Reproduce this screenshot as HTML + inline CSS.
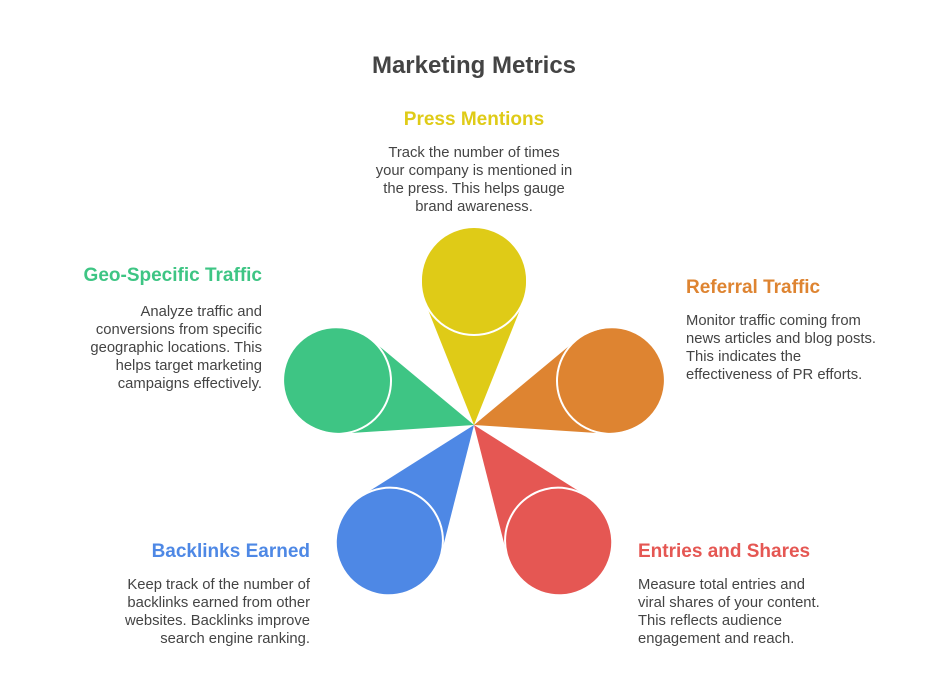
<!DOCTYPE html>
<html><head><meta charset="utf-8"><style>
html,body{margin:0;padding:0;background:#fff;}
body{width:948px;height:696px;position:relative;overflow:hidden;font-family:"Liberation Sans",Arial,sans-serif;}
.t{position:absolute;white-space:nowrap;}
.h{font-weight:bold;font-size:19px;}
.b{font-size:14.8px;line-height:18px;color:#444;}
.r{text-align:right;}
.c{text-align:center;}
</style></head><body>
<svg width="948" height="696" style="position:absolute;left:0;top:0">
<g transform="translate(474,425)">
 <g fill="#DFCB17"><polygon points="0,0 -49.2,-123.4 49.2,-123.4"/><circle cy="-143" r="53" stroke="#fff" stroke-width="2"/><circle cy="-145" r="52"/></g>
 <g fill="#DE8431" transform="rotate(72)"><polygon points="0,0 -49.2,-123.4 49.2,-123.4"/><circle cy="-143" r="53" stroke="#fff" stroke-width="2"/><circle cy="-145" r="52"/></g>
 <g fill="#E55753" transform="rotate(144)"><polygon points="0,0 -49.2,-123.4 49.2,-123.4"/><circle cy="-143" r="53" stroke="#fff" stroke-width="2"/><circle cy="-145" r="52"/></g>
 <g fill="#4E88E5" transform="rotate(216)"><polygon points="0,0 -49.2,-123.4 49.2,-123.4"/><circle cy="-143" r="53" stroke="#fff" stroke-width="2"/><circle cy="-145" r="52"/></g>
 <g fill="#3EC584" transform="rotate(288)"><polygon points="0,0 -49.2,-123.4 49.2,-123.4"/><circle cy="-143" r="53" stroke="#fff" stroke-width="2"/><circle cy="-145" r="52"/></g>
</g>
</svg>
<div class="t c" style="left:274px;width:400px;top:52px;font-size:24px;font-weight:bold;color:#444">Marketing Metrics</div>

<div class="t h c" style="left:274px;width:400px;top:109px;color:#DFCB17">Press Mentions</div>
<div class="t b c" style="left:274px;width:400px;top:144px">Track the number of times<br>your company is mentioned in<br>the press. This helps gauge<br>brand awareness.</div>

<div class="t h" style="left:686px;top:277px;color:#DE8431">Referral Traffic</div>
<div class="t b" style="left:686px;top:312px">Monitor traffic coming from<br>news articles and blog posts.<br>This indicates the<br>effectiveness of PR efforts.</div>

<div class="t h r" style="right:686px;top:265px;color:#3EC584">Geo-Specific Traffic</div>
<div class="t b r" style="right:686px;top:303px">Analyze traffic and<br>conversions from specific<br>geographic locations. This<br>helps target marketing<br>campaigns effectively.</div>

<div class="t h r" style="right:638px;top:541px;color:#4E88E5">Backlinks Earned</div>
<div class="t b r" style="right:638px;top:576px">Keep track of the number of<br>backlinks earned from other<br>websites. Backlinks improve<br>search engine ranking.</div>

<div class="t h" style="left:638px;top:541px;color:#E55753">Entries and Shares</div>
<div class="t b" style="left:638px;top:576px">Measure total entries and<br>viral shares of your content.<br>This reflects audience<br>engagement and reach.</div>
</body></html>
